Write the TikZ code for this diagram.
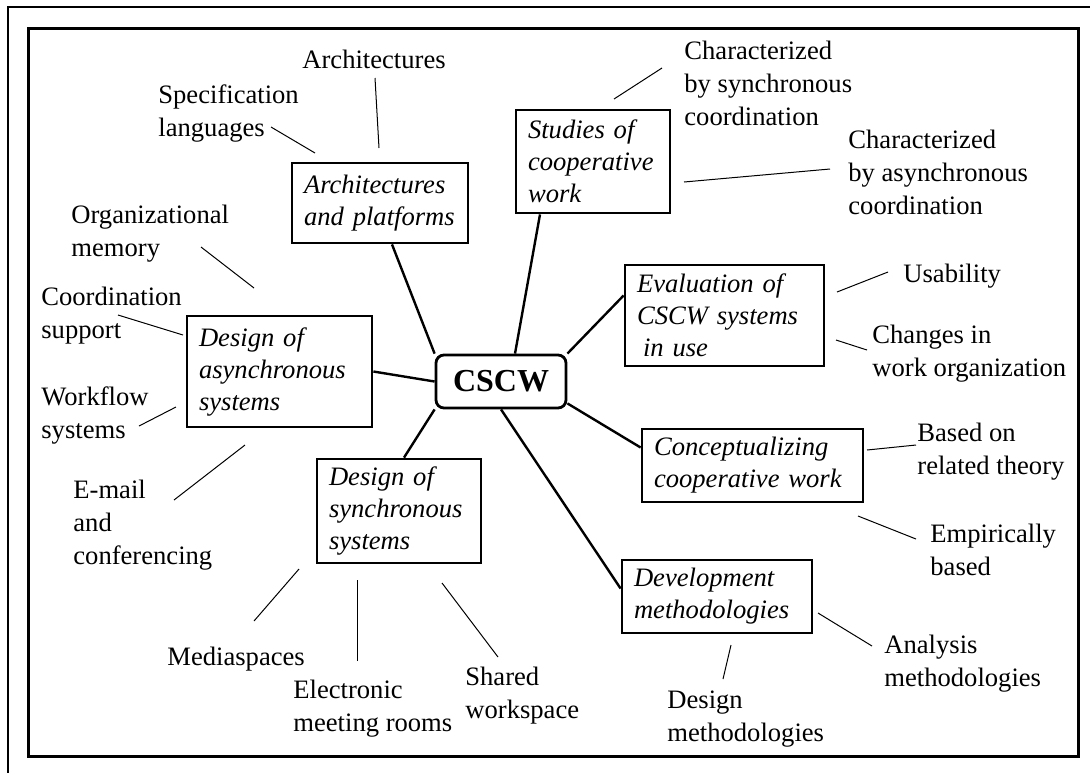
\documentclass[tikz,border=0pt]{standalone}
\usepackage{fontspec}
\setmainfont{Liberation Serif}
\tikzstyle{topic} = [rectangle, draw, line width=1.4pt, inner sep=0pt, inner xsep=6pt,
    align=left, font=\itshape\fontsize{13.3}{16}\selectfont]
\tikzstyle{hub} = [rectangle, draw, line width=1.4pt, rounded corners=4pt,
    minimum width=65pt, minimum height=26.5pt, font=\bfseries\fontsize{16}{19}\selectfont]
\tikzstyle{lbl} = [anchor=north west, inner sep=0pt, align=left,
    font=\fontsize{13.3}{16.5}\selectfont]
\tikzstyle{spoke} = [line width=1.2pt]
\tikzstyle{leader} = [line width=0.5pt]
\begin{document}
\begin{tikzpicture}[x=0.5pt,y=-0.5pt]
  \useasboundingbox (0,0) rectangle (1090,773);
  \draw[line width=1pt] (1090,7) -- (8,7) -- (8,773);
  \draw[line width=1.5pt] (28,28) rectangle (1078,756);

  \node[hub] (cscw) at (501,381.5) {CSCW};
  \node[topic, minimum width=88pt, minimum height=40pt, text width=76pt]
    (arch) at (380,203) {Architectures\\and platforms};
  \node[topic, minimum width=77pt, minimum height=51.5pt, text width=65pt]
    (study) at (593,161.5) {Studies of\\cooperative\\work};
  \node[topic, minimum width=92.5pt, minimum height=55.5pt, text width=80.5pt]
    (async) at (279.5,371.5) {Design of\\asynchronous\\systems};
  \node[topic, minimum width=99.5pt, minimum height=50.5pt, text width=87.5pt]
    (eval) at (724.5,315.5) {Evaluation of\\CSCW systems\\\hspace*{3pt}in use};
  \node[topic, minimum width=110.5pt, minimum height=36.5pt, text width=98.5pt]
    (concept) at (752.5,465.5) {Conceptualizing\\cooperative work};
  \node[topic, minimum width=95pt, minimum height=36.5pt, text width=83pt]
    (dev) at (717,596.5) {Development\\methodologies};
  \node[topic, minimum width=82pt, minimum height=52pt, text width=70pt]
    (sync) at (399,511) {Design of\\synchronous\\systems};

  \draw[spoke] (cscw.north west) -- ([xshift=6pt]arch.south);
  \draw[spoke] ([xshift=7pt]cscw.north) -- ([xshift=-26.5pt]study.south);
  \draw[spoke] (cscw.north east) -- ([yshift=10pt]eval.west);
  \draw[spoke] ([yshift=3pt]cscw.south east) -- ([yshift=9pt]concept.west);
  \draw[spoke] (cscw.south) -- ([yshift=4pt]dev.west);
  \draw[spoke] (cscw.south west) -- ([xshift=2.5pt]sync.north);
  \draw[spoke] (cscw.west) -- (async.east);

  \node[lbl] (lArch) at (302,45) {\strut Architectures};
  \node[lbl] (lSpec) at (158,80) {\strut Specification\\languages};
  \node[lbl] (lOrg) at (71,200) {\strut Organizational\\memory};
  \node[lbl] (lCoord) at (41,282) {\strut Coordination\\support};
  \node[lbl] (lFlow) at (41,382) {\strut Workflow\\systems};
  \node[lbl] (lMail) at (73,475) {\strut E-mail\\and\\conferencing};
  \node[lbl] (lMedia) at (167,642) {\strut Mediaspaces};
  \node[lbl] (lElec) at (293,675) {\strut Electronic\\meeting rooms};
  \node[lbl] (lShared) at (465,662) {\strut Shared\\workspace};
  \node[lbl] (lSyncCo) at (684,36) {\strut Characterized\\by synchronous\\coordination};
  \node[lbl] (lAsyncCo) at (848,125) {\strut Characterized\\by asynchronous\\coordination};
  \node[lbl] (lUsab) at (903,259) {\strut Usability};
  \node[lbl] (lChange) at (872,320) {\strut Changes in\\work organization};
  \node[lbl] (lTheory) at (917,418) {\strut Based on\\related theory};
  \node[lbl] (lEmp) at (930,519) {\strut Empirically\\based};
  \node[lbl] (lAnal) at (884,630) {\strut Analysis\\methodologies};
  \node[lbl] (lDesign) at (667,685) {\strut Design\\methodologies};

  \foreach \n/\xa/\ya/\xb/\yb in {archl/375/78/379/148, spec/271/127/315/153,
      org/201/247/254/288, coord/118/315/183/335, flow/139/426/176/407,
      mail/174/500/245/445, media/254/621/299/569, elec/357/661/357/580,
      shared/498/657/442/583, syncco/662/68/614/99, asyncco/830/169/684/182,
      usab/888/272/837/292, change/867/350/836/340, theory/916/445/867/450,
      emp/916/539/858/516, anal/872/646/818/613, design/723/679/731/645} {
    \coordinate (\n-a) at (\xa,\ya);
    \coordinate (\n-b) at (\xb,\yb);
    \draw[leader] (\n-a) -- (\n-b);
  }
\end{tikzpicture}
\end{document}
